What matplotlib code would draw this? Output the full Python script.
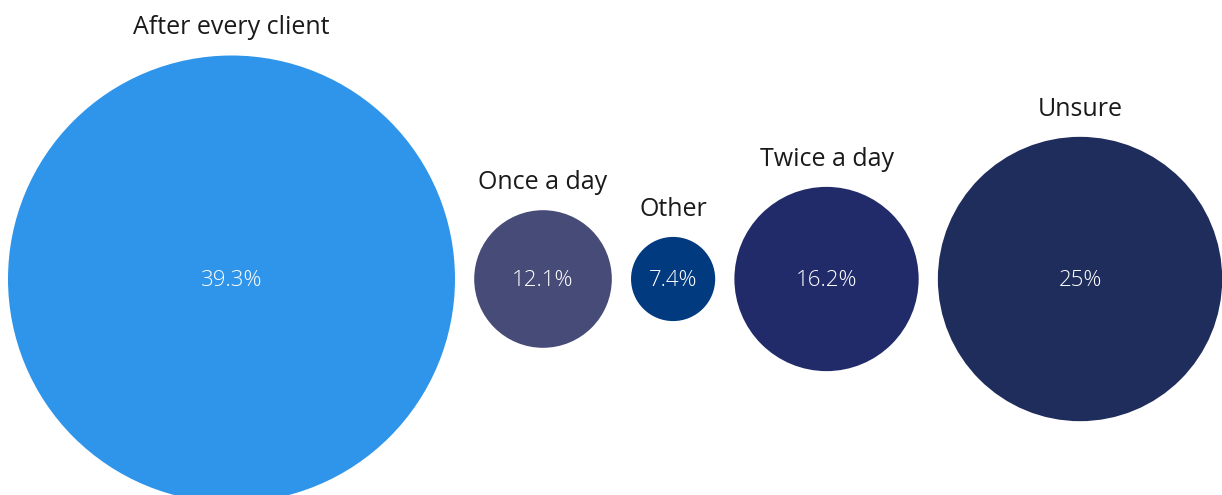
import matplotlib.pyplot as plt
from matplotlib.patches import Circle

# how often the cleaning is done
labels = ["After every client", "Once a day", "Other", "Twice a day", "Unsure"]
shares = [39.3, 12.1, 7.4, 16.2, 25]
value_text = ["39.3%", "12.1%", "7.4%", "16.2%", "25%"]
colors = ["#2F95EA", "#474B77", "#023A80", "#222B6A", "#1F2D5C"]

W, H = 1222, 495
fig = plt.figure(figsize=(W / 100, H / 100), dpi=100)
ax = fig.add_axes([0, 0, 1, 1])
ax.set_xlim(0, W)
ax.set_ylim(H, 0)
ax.axis("off")

# diameter scales linearly with the share, circles sit side by side on one line
px_per_pct = 223.5 / 39.3
gap = 19.2
cy = 279
x = 8
for lab, v, txt, c in zip(labels, shares, value_text, colors):
    r = v * px_per_pct
    cx = x + r
    ax.add_patch(Circle((cx, cy), r, facecolor=c, edgecolor="none"))
    ax.text(cx, cy + 2, txt, ha="center", va="center", color="white",
            fontsize=16, family="Open Sans", fontweight="light")
    ax.text(cx, cy - r - 15, lab, ha="center", va="bottom", color="#1a1a1a",
            fontsize=18, family="Open Sans")
    x = cx + r + gap

fig.savefig("out.png", dpi=100)
